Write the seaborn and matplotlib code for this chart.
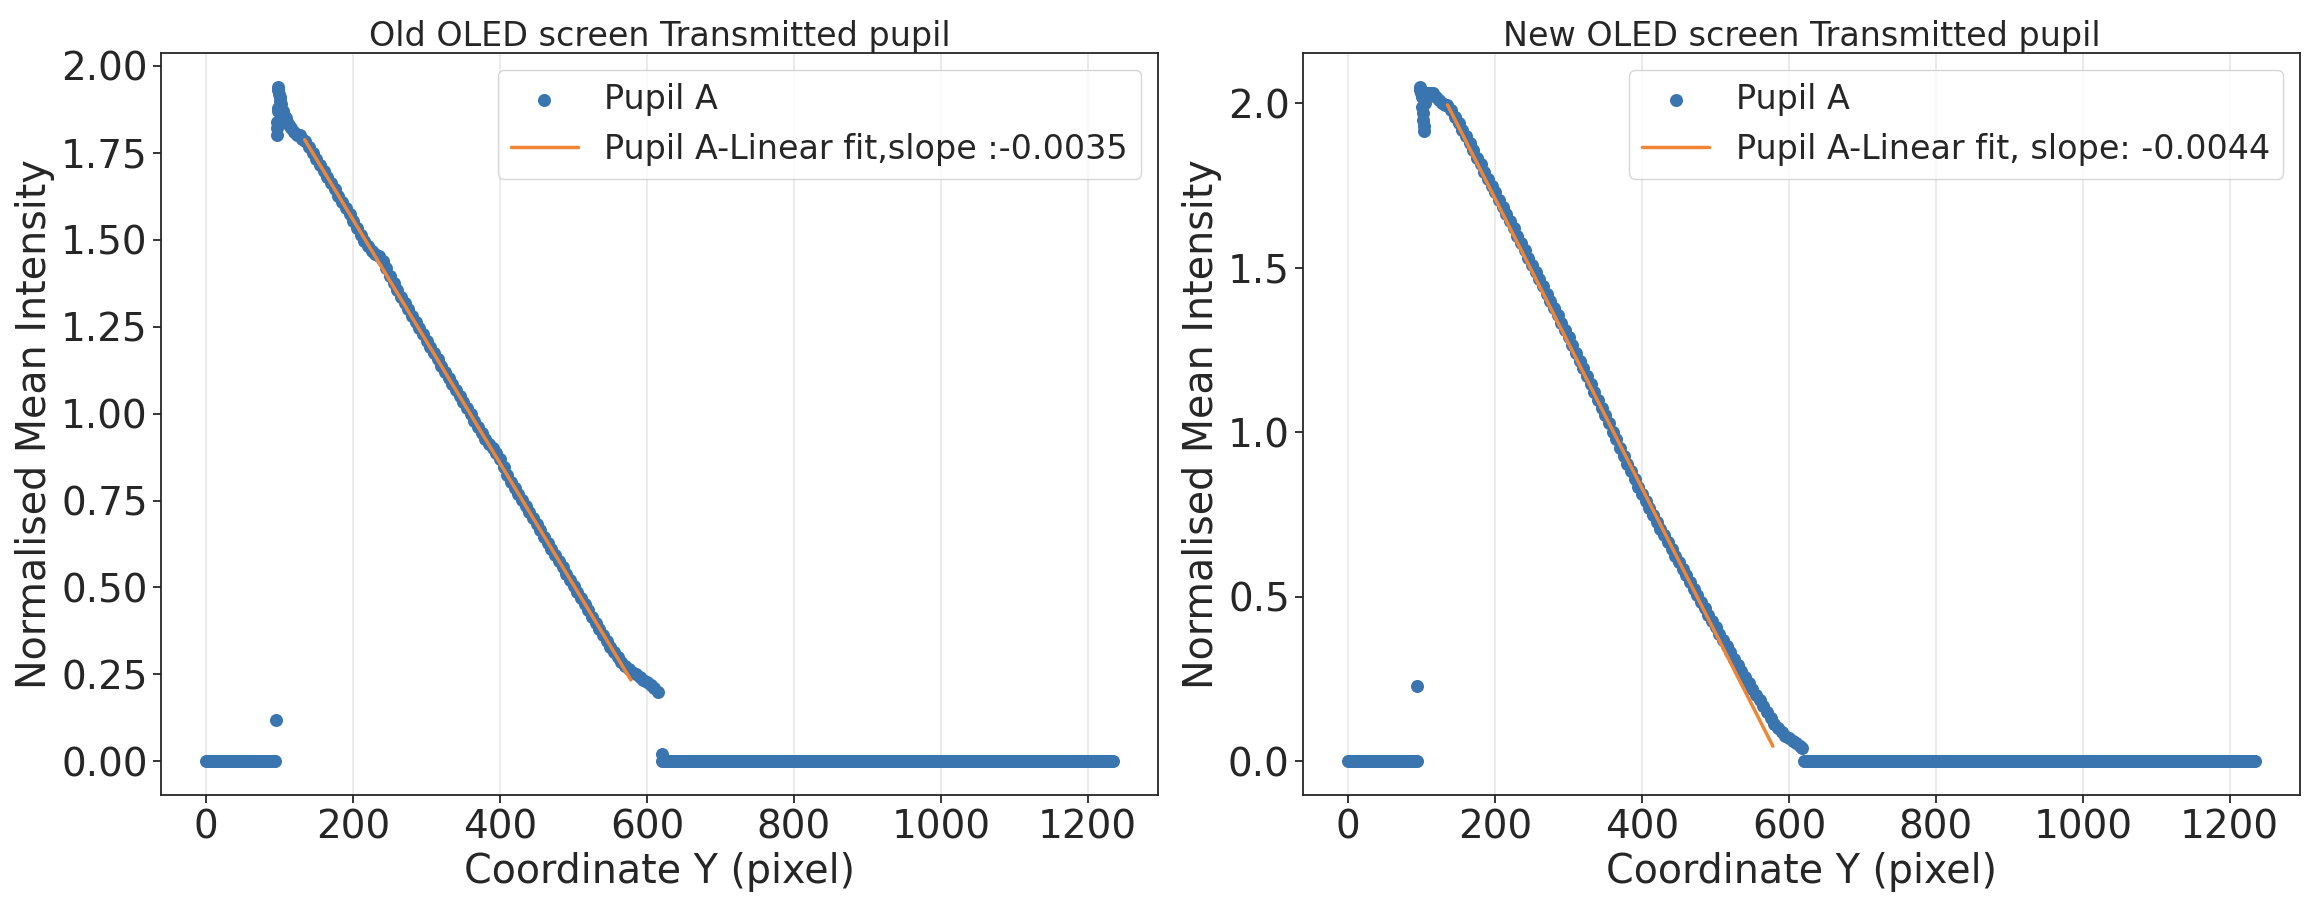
import numpy as np
import pandas as pd
import matplotlib
matplotlib.use("Agg")
import matplotlib.pyplot as plt
import seaborn as sns

# ---------------- data ----------------
titles = ["Old OLED screen Transmitted pupil", "New OLED screen Transmitted pupil"]
fit_labels = ["Pupil A-Linear fit,slope :-0.0035", "Pupil A-Linear fit, slope: -0.0044"]

# old screen
old_zero_head_x = np.arange(0, 95, 2)
old_spike_x = [95]
old_spike_y = [0.12]
old_peak_x = [96, 96, 96, 97, 97, 98, 98, 99, 100, 101, 102, 104, 106, 108, 110, 113, 116, 120, 124, 128, 131]
old_peak_y = [1.80, 1.82, 1.84, 1.87, 1.88, 1.94, 1.93, 1.92, 1.91, 1.90, 1.89, 1.87, 1.86, 1.85, 1.84, 1.83,
              1.82, 1.81, 1.80, 1.80, 1.79]
old_slope_x = np.arange(135, 616, 5)
old_slope_y = [1.785, 1.768, 1.750, 1.733, 1.715, 1.698, 1.680, 1.663, 1.645, 1.627, 1.610, 1.592, 1.573,
               1.555, 1.535, 1.515, 1.497, 1.483, 1.468, 1.458, 1.452, 1.440, 1.418, 1.397, 1.375, 1.355,
               1.336, 1.318, 1.300, 1.282, 1.264, 1.246, 1.228, 1.210, 1.192, 1.174, 1.156, 1.138, 1.120,
               1.103, 1.085, 1.068, 1.050, 1.033, 1.015, 0.998, 0.980, 0.962, 0.945, 0.928, 0.912, 0.900,
               0.888, 0.868, 0.845, 0.823, 0.803, 0.785, 0.768, 0.752, 0.735, 0.718, 0.700, 0.682, 0.664,
               0.646, 0.628, 0.611, 0.593, 0.576, 0.558, 0.540, 0.522, 0.505, 0.487, 0.470, 0.452, 0.434,
               0.416, 0.398, 0.380, 0.362, 0.345, 0.330, 0.315, 0.300, 0.287, 0.275, 0.266, 0.258, 0.250,
               0.242, 0.235, 0.228, 0.220, 0.212, 0.200]
old_drop_x = [620]
old_drop_y = [0.02]
old_zero_tail_x = np.arange(620, 1236, 2)
old_fit_x = [134, 578]
old_fit_y = [1.788, 0.234]

# new screen
new_zero_head_x = np.arange(0, 95, 2)
new_spike_x = [93]
new_spike_y = [0.23]
new_peak_x = [97, 98, 99, 100, 100, 101, 102, 103, 103.5, 104, 106, 108, 111, 115, 119, 123, 127, 131]
new_peak_y = [2.05, 2.04, 2.03, 2.02, 1.99, 1.97, 1.95, 1.93, 1.915, 2.00, 2.02, 2.03, 2.03, 2.03, 2.02,
              2.01, 2.00, 1.995]
new_slope_x = np.arange(135, 616, 5)
new_slope_y = [1.995, 1.978, 1.958, 1.939, 1.919, 1.900, 1.878, 1.857, 1.835, 1.814, 1.792, 1.771, 1.749,
               1.729, 1.707, 1.685, 1.663, 1.641, 1.621, 1.597, 1.575, 1.553, 1.531, 1.509, 1.487, 1.465,
               1.443, 1.421, 1.399, 1.377, 1.355, 1.333, 1.311, 1.289, 1.265, 1.241, 1.218, 1.194, 1.171,
               1.147, 1.123, 1.099, 1.075, 1.051, 1.027, 1.002, 0.978, 0.953, 0.929, 0.905, 0.881, 0.858,
               0.835, 0.813, 0.791, 0.770, 0.749, 0.728, 0.707, 0.687, 0.666, 0.645, 0.625, 0.605, 0.585,
               0.565, 0.545, 0.525, 0.505, 0.485, 0.465, 0.445, 0.426, 0.407, 0.388, 0.369, 0.350, 0.331,
               0.312, 0.293, 0.275, 0.257, 0.239, 0.221, 0.203, 0.185, 0.167, 0.149, 0.131, 0.114, 0.100,
               0.088, 0.078, 0.070, 0.062, 0.055, 0.047]
new_drop_x = [618]
new_drop_y = [0.04]
new_zero_tail_x = np.arange(620, 1236, 2)
new_fit_x = [135, 578]
new_fit_y = [1.995, 0.046]


def build_frame(zero_head_x, spike_x, spike_y, peak_x, peak_y, slope_x, slope_y, drop_x, drop_y, zero_tail_x):
    xs = list(zero_head_x) + spike_x + peak_x + list(slope_x) + drop_x + list(zero_tail_x)
    ys = [0.0] * len(zero_head_x) + spike_y + peak_y + slope_y + drop_y + [0.0] * len(zero_tail_x)
    return pd.DataFrame({"Coordinate": xs, "Intensity": ys})


frames = [
    build_frame(old_zero_head_x, old_spike_x, old_spike_y, old_peak_x, old_peak_y,
                old_slope_x, old_slope_y, old_drop_x, old_drop_y, old_zero_tail_x),
    build_frame(new_zero_head_x, new_spike_x, new_spike_y, new_peak_x, new_peak_y,
                new_slope_x, new_slope_y, new_drop_x, new_drop_y, new_zero_tail_x),
]
fits = [(old_fit_x, old_fit_y), (new_fit_x, new_fit_y)]

# ---------------- plotting ----------------
sns.set_style("ticks")
plt.rcParams["font.family"] = ["DejaVu Sans"]

blue = "#3b75af"
orange = "#f08536"

fig, axes = plt.subplots(1, 2, figsize=(23.16, 9.02), dpi=100)
fig.subplots_adjust(left=0.0695, right=0.9931, bottom=0.1186, top=0.9412, wspace=0.1455)

for ax, df, (fx, fy), title, flabel in zip(axes, frames, fits, titles, fit_labels):
    sns.scatterplot(data=df, x="Coordinate", y="Intensity", ax=ax, color=blue, s=88,
                    linewidth=0, label="Pupil A", zorder=2)
    ax.plot(fx, fy, color=orange, lw=2.5, label=flabel, zorder=3)
    ax.set_title(title, fontsize=24, pad=5)
    ax.set_xlabel("Coordinate Y (pixel)", fontsize=28.5)
    ax.set_ylabel("Normalised Mean Intensity", fontsize=28.5)
    ax.set_xticks([0, 200, 400, 600, 800, 1000, 1200])
    ax.tick_params(labelsize=28, length=6, width=1.3)
    ax.grid(axis="x", color="#e8e8e8", lw=1.2)
    ax.set_axisbelow(True)
    for sp in ax.spines.values():
        sp.set_linewidth(1.3)
    ax.legend(loc="upper right", fontsize=24, framealpha=0.8)

axes[0].set_yticks([0.0, 0.25, 0.5, 0.75, 1.0, 1.25, 1.5, 1.75, 2.0])
axes[0].yaxis.set_major_formatter(matplotlib.ticker.FormatStrFormatter("%.2f"))
axes[1].set_yticks([0.0, 0.5, 1.0, 1.5, 2.0])
axes[1].yaxis.set_major_formatter(matplotlib.ticker.FormatStrFormatter("%.1f"))

fig.savefig("out.png", dpi=100)
